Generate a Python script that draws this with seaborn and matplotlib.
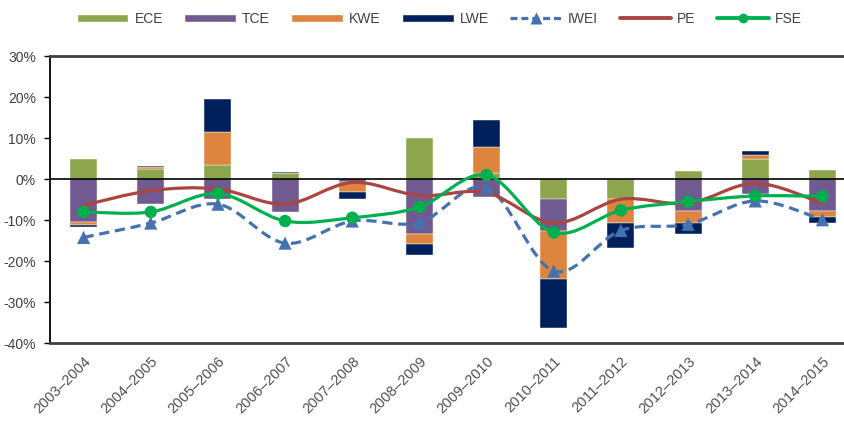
import numpy as np
import pandas as pd
import matplotlib
matplotlib.use("Agg")
import matplotlib.pyplot as plt
import seaborn as sns
from matplotlib.path import Path
from matplotlib.patches import PathPatch, Patch
from matplotlib.lines import Line2D
from matplotlib.ticker import FuncFormatter

# ---------------- data (percent) ----------------
periods = ["2003–2004", "2004–2005", "2005–2006", "2006–2007", "2007–2008", "2008–2009",
           "2009–2010", "2010–2011", "2011–2012", "2012–2013", "2013–2014", "2014–2015"]
ECE = [5.0, 2.5, 3.5, 1.6, 0.0, 9.9, 1.45, -4.9, -4.9, 1.9, 4.9, 2.2]
TCE = [-10.5, -6.1, -4.9, -8.0, -0.7, -13.3, -4.4, -7.7, 0.0, -7.7, -3.7, -7.7]
KWE = [-0.65, 0.5, 8.0, 0.0, -2.5, -2.6, 6.4, -11.8, -5.9, -2.9, 0.9, -1.6]
LWE = [-0.5, 0.3, 8.0, 0.2, -1.7, -2.5, 6.6, -11.9, -5.9, -2.8, 1.1, -1.5]
IWEI = [-14.2, -10.7, -6.1, -15.6, -10.2, -10.6, -2.1, -22.4, -12.5, -11.0, -5.3, -9.9]
PE = [-6.4, -2.8, -2.4, -6.1, -0.8, -4.0, -3.3, -10.7, -4.9, -5.9, -1.0, -5.9]
FSE = [-8.0, -8.0, -3.5, -10.2, -9.4, -6.8, 1.0, -13.0, -7.6, -5.5, -4.1, -4.2]
yticks = [30, 20, 10, 0, -10, -20, -30, -40]

bar_series = {"ECE": ECE, "TCE": TCE, "KWE": KWE, "LWE": LWE}
colors = {"ECE": "#8DA64E", "TCE": "#715A8F", "KWE": "#DD843F", "LWE": "#00205B",
          "IWEI": "#4472B0", "PE": "#AA4541", "FSE": "#00B04F"}

sns.set_theme(style="white")
plt.rcParams["font.family"] = ["Liberation Sans", "DejaVu Sans"]

fig = plt.figure(figsize=(8.45, 4.21), dpi=100)
ax = fig.add_axes([50 / 845, (421 - 343.3) / 421, 806 / 845, (343.3 - 56) / 421])

x = np.arange(len(periods))
pos_bottom = np.zeros(len(periods))
neg_bottom = np.zeros(len(periods))
for name, vals in bar_series.items():
    v = np.array(vals, dtype=float)
    bottom = np.where(v >= 0, pos_bottom, neg_bottom)
    ax.bar(x, v, width=0.4, bottom=bottom, color=colors[name], zorder=2,
           edgecolor="white", linewidth=0.3)
    pos_bottom = pos_bottom + np.where(v >= 0, v, 0)
    neg_bottom = neg_bottom + np.where(v < 0, v, 0)

ax.axhline(0, color="black", lw=1.2, zorder=3)


def smooth_path(xs, ys):
    pts = np.column_stack([xs, ys]).astype(float)
    n = len(pts)
    verts = [pts[0]]
    codes = [Path.MOVETO]
    for i in range(n - 1):
        p0 = pts[i - 1] if i > 0 else pts[i]
        p1 = pts[i]
        p2 = pts[i + 1]
        p3 = pts[i + 2] if i + 2 < n else pts[i + 1]
        verts += [p1 + (p2 - p0) / 6.0, p2 - (p3 - p1) / 6.0, p2]
        codes += [Path.CURVE4] * 3
    return Path(verts, codes)


ax.add_patch(PathPatch(smooth_path(x, IWEI), fill=False, edgecolor=colors["IWEI"], lw=2.3,
                       linestyle=(0, (3.2, 1.8)), zorder=4, capstyle="butt"))
ax.add_patch(PathPatch(smooth_path(x, PE), fill=False, edgecolor=colors["PE"], lw=2.3,
                       zorder=4, capstyle="round"))
ax.add_patch(PathPatch(smooth_path(x, FSE), fill=False, edgecolor=colors["FSE"], lw=2.3,
                       zorder=5, capstyle="round"))

df = pd.DataFrame({"x": x, "IWEI": IWEI, "FSE": FSE})
sns.scatterplot(data=df, x="x", y="IWEI", marker="^", s=90, color=colors["IWEI"],
                edgecolor="none", ax=ax, zorder=6, legend=False)
sns.scatterplot(data=df, x="x", y="FSE", marker="o", s=80, color=colors["FSE"],
                edgecolor="none", ax=ax, zorder=7, legend=False)

ax.set_xlim(-0.5, len(periods) - 0.5)
ax.set_ylim(-40, 30)
ax.set_yticks(yticks)
ax.yaxis.set_major_formatter(FuncFormatter(lambda v, p: f"{int(round(v))}%"))
ax.set_xticks(x)
ax.set_xticklabels(periods, rotation=45, ha="right", va="top", rotation_mode="anchor",
                   fontsize=10.5, color="#505050")
ax.tick_params(axis="y", which="major", direction="out", length=4, width=1, color="black",
               labelsize=10, labelcolor="#404040", pad=6, left=True)
ax.tick_params(axis="x", length=0, pad=8)
ax.set_xlabel("")
ax.set_ylabel("")
ax.grid(False)

ax.spines["left"].set_color("black")
ax.spines["left"].set_linewidth(1.3)
for side in ["top", "bottom"]:
    ax.spines[side].set_color("#404040")
    ax.spines[side].set_linewidth(2.0)
ax.spines["right"].set_visible(False)

handles = [
    Patch(facecolor=colors["ECE"], label="ECE"),
    Patch(facecolor=colors["TCE"], label="TCE"),
    Patch(facecolor=colors["KWE"], label="KWE"),
    Patch(facecolor=colors["LWE"], label="LWE"),
    Line2D([], [], color=colors["IWEI"], lw=2.3, linestyle=(0, (2.2, 1.2)), marker="^",
           markersize=8, markeredgecolor="none", label="IWEI"),
    Line2D([], [], color=colors["PE"], lw=2.8, label="PE"),
    Line2D([], [], color=colors["FSE"], lw=2.8, marker="o", markersize=7,
           markeredgecolor="none", label="FSE"),
]
fig.legend(handles=handles, loc="center", bbox_to_anchor=(0.52, 0.955), ncol=7,
           frameon=False, fontsize=10, handlelength=3.7, handleheight=0.55,
           handletextpad=0.45, columnspacing=1.55, labelcolor="#404040")

fig.savefig("out.png", dpi=100)
